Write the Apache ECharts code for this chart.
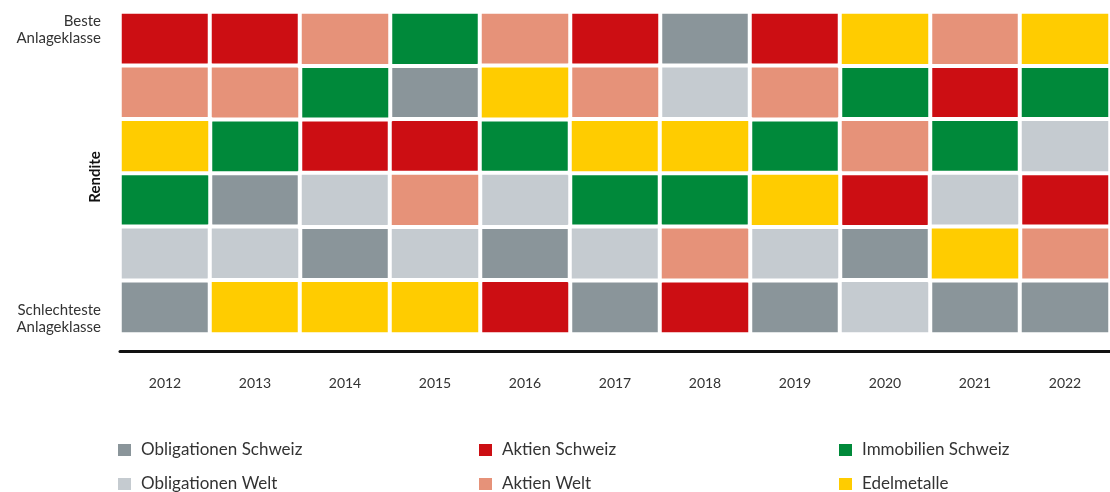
<!DOCTYPE html>
<html>
<head>
<meta charset="utf-8">
<script src="https://cdn.jsdelivr.net/npm/echarts@6/dist/echarts.min.js"></script>
<style>
  html, body { margin: 0; padding: 0; background: #fff; }
  #chart { width: 1110px; height: 492px; }
</style>
</head>
<body>
<div id="chart"></div>
<script>
const years = ['2012', '2013', '2014', '2015', '2016', '2017', '2018', '2019', '2020', '2021', '2022'];
const ranks = ['1', '2', '3', '4', '5', '6'];

const classes = ['Obligationen Schweiz', 'Aktien Schweiz', 'Immobilien Schweiz',
                 'Obligationen Welt', 'Aktien Welt', 'Edelmetalle'];
const colors = ['#8a959a', '#cc0e13', '#00893a', '#c5cbd0', '#e69279', '#ffcc00'];

// per year, best to worst
const OCH = 'Obligationen Schweiz', OW = 'Obligationen Welt', ACH = 'Aktien Schweiz',
      AW = 'Aktien Welt', IMMO = 'Immobilien Schweiz', EDEL = 'Edelmetalle';
const ranking = [
  [ACH, AW, EDEL, IMMO, OW, OCH],   // 2012
  [ACH, AW, IMMO, OCH, OW, EDEL],   // 2013
  [AW, IMMO, ACH, OW, OCH, EDEL],   // 2014
  [IMMO, OCH, ACH, AW, OW, EDEL],   // 2015
  [AW, EDEL, IMMO, OW, OCH, ACH],   // 2016
  [ACH, AW, EDEL, IMMO, OW, OCH],   // 2017
  [OCH, OW, EDEL, IMMO, AW, ACH],   // 2018
  [ACH, AW, IMMO, EDEL, OW, OCH],   // 2019
  [EDEL, IMMO, AW, ACH, OCH, OW],   // 2020
  [AW, ACH, IMMO, OW, EDEL, OCH],   // 2021
  [EDEL, IMMO, OW, ACH, AW, OCH]    // 2022
];

const series = classes.map((name, i) => {
  const data = [];
  ranking.forEach((col, x) => {
    const y = col.indexOf(name);
    if (y >= 0) data.push([x, y, 1]);
  });
  return {
    name: name,
    type: 'heatmap',
    data: data,
    itemStyle: { color: colors[i], borderColor: '#fff', borderWidth: 4 },
    emphasis: { disabled: true }
  };
});

const legendPos = [
  [116, 440], [477, 440], [837, 440],
  [116, 474], [477, 474], [837, 474]
];
const legends = classes.map((name, i) => ({
  data: [name],
  left: legendPos[i][0],
  top: legendPos[i][1],
  padding: 0,
  icon: 'rect',
  itemWidth: 15,
  itemHeight: 14,
  selectedMode: false,
  textStyle: { fontSize: 17, color: '#333', lineHeight: 20, padding: [0, 0, 0, 4], fontFamily: 'Lato' }
}));

const chart = echarts.init(document.getElementById('chart'));
chart.setOption({
  animation: false,
  textStyle: { fontFamily: 'Lato' },
  grid: { left: 120, top: 12, width: 992, height: 322 },
  xAxis: {
    type: 'category',
    data: years,
    offset: 17,
    axisLine: { lineStyle: { color: '#111', width: 3 } },
    axisTick: { show: false },
    axisLabel: { fontSize: 14, color: '#333', margin: 25 },
    splitLine: { show: false }
  },
  yAxis: {
    type: 'category',
    data: ranks,
    inverse: true,
    axisLine: { show: false },
    axisTick: { show: false },
    axisLabel: { show: false },
    splitLine: { show: false }
  },
  legend: legends,
  graphic: [
    {
      type: 'text', x: 101, y: 13,
      style: { text: 'Beste\nAnlageklasse', fontSize: 15, lineHeight: 17, fill: '#333', align: 'right', fontFamily: 'Lato' }
    },
    {
      type: 'text', x: 101, y: 302,
      style: { text: 'Schlechteste\nAnlageklasse', fontSize: 15, lineHeight: 17, fill: '#333', align: 'right', fontFamily: 'Lato' }
    },
    {
      type: 'text', x: 95, y: 177, rotation: Math.PI / 2,
      style: { text: 'Rendite', fontSize: 15, fontWeight: 'bold', fill: '#111', align: 'center', verticalAlign: 'middle', fontFamily: 'Lato' }
    }
  ],
  series: series
});
</script>
</body>
</html>
